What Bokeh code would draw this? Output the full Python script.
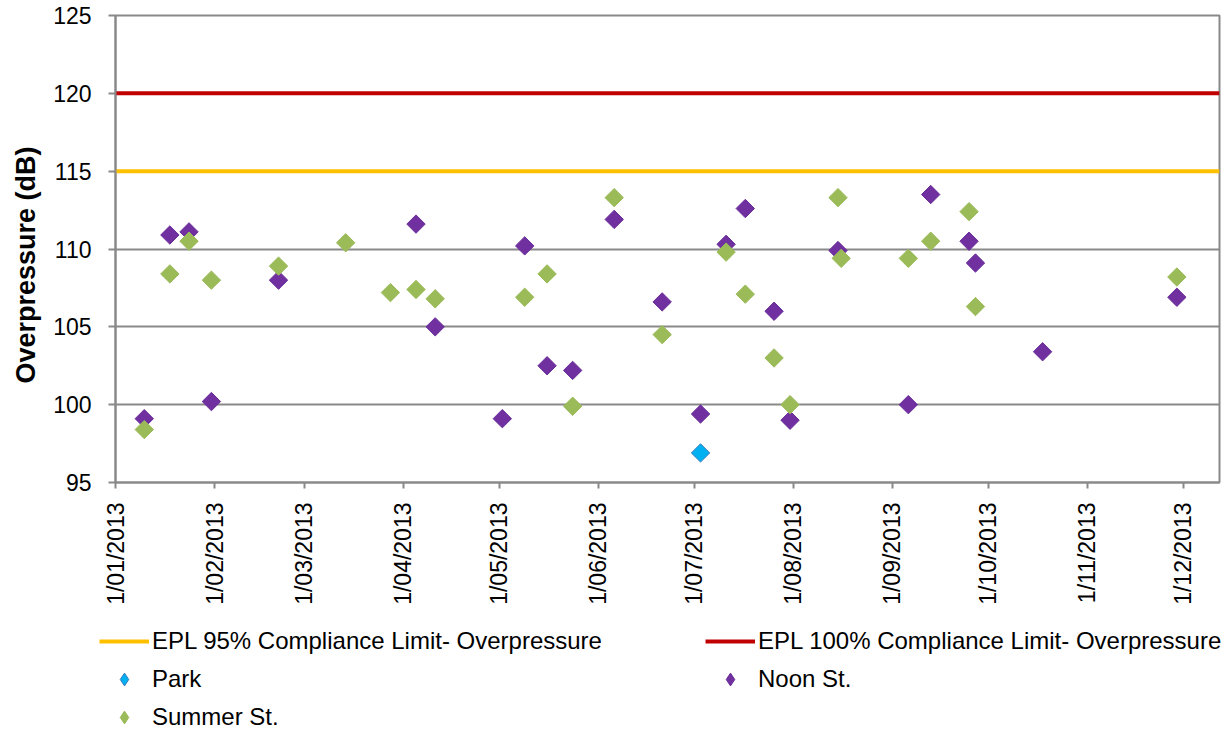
import datetime as dt
from math import pi

from bokeh.plotting import figure
from bokeh.layouts import column, row
from bokeh.models import (ColumnDataSource, Legend, LegendItem, Range1d,
                          FixedTicker, DatetimeTickFormatter, Title)
from bokeh.embed import file_html
from bokeh.resources import INLINE

# ---------------- data ----------------
noon_dates = ["2013-01-10", "2013-01-18", "2013-01-24", "2013-01-31", "2013-02-21",
              "2013-04-05", "2013-04-11", "2013-05-02", "2013-05-09", "2013-05-16",
              "2013-05-24", "2013-06-06", "2013-06-21", "2013-07-03", "2013-07-11",
              "2013-07-17", "2013-07-26", "2013-07-31", "2013-08-15", "2013-09-06",
              "2013-09-13", "2013-09-25", "2013-09-27", "2013-10-18", "2013-11-29"]
noon_db = [99.1, 110.9, 111.1, 100.2, 108.0,
           111.6, 105.0, 99.1, 110.2, 102.5,
           102.2, 111.9, 106.6, 99.4, 110.3,
           112.6, 106.0, 99.0, 109.9, 100.0,
           113.5, 110.5, 109.1, 103.4, 106.9]

summer_dates = ["2013-01-10", "2013-01-18", "2013-01-24", "2013-01-31", "2013-02-21",
                "2013-03-14", "2013-03-28", "2013-04-05", "2013-04-11", "2013-05-09",
                "2013-05-16", "2013-05-24", "2013-06-06", "2013-06-21", "2013-07-11",
                "2013-07-17", "2013-07-26", "2013-07-31", "2013-08-15", "2013-08-16",
                "2013-09-06", "2013-09-13", "2013-09-25", "2013-09-27", "2013-11-29"]
summer_db = [98.4, 108.4, 110.5, 108.0, 108.9,
             110.4, 107.2, 107.4, 106.8, 106.9,
             108.4, 99.9, 113.3, 104.5, 109.8,
             107.1, 103.0, 100.0, 113.3, 109.4,
             109.4, 110.5, 112.4, 106.3, 108.2]

park_dates = ["2013-07-03"]
park_db = [96.9]

limit_95 = 115
limit_100 = 120

x_start = "2013-01-01T00:00:00"
x_end = "2013-12-12T08:00:00"

tick_dates = ["2013-01-01", "2013-02-01", "2013-03-01", "2013-04-01", "2013-05-01",
              "2013-06-01", "2013-07-01", "2013-08-01", "2013-09-01", "2013-10-01",
              "2013-11-01", "2013-12-01"]
tick_labels = ["1/01/2013", "1/02/2013", "1/03/2013", "1/04/2013", "1/05/2013",
               "1/06/2013", "1/07/2013", "1/08/2013", "1/09/2013", "1/10/2013",
               "1/11/2013", "1/12/2013"]
y_ticks = [95, 100, 105, 110, 115, 120, 125]


def ms(s):
    d = dt.datetime.fromisoformat(s).replace(tzinfo=dt.timezone.utc)
    return d.timestamp() * 1000.0


FONT = "Liberation Sans"
GRID = "#898989"

x0, x1 = ms(x_start), ms(x_end)

p = figure(width=1228, height=618, x_axis_type="datetime",
           output_backend="svg", toolbar_location=None,
           x_range=Range1d(x0, x1), y_range=Range1d(95, 125),
           min_border_left=115, min_border_right=9, min_border_top=15,
           min_border_bottom=136)

p.outline_line_color = GRID
p.outline_line_width = 2
p.background_fill_color = "white"
p.border_fill_color = "white"

# grid
p.xgrid.grid_line_color = None
p.ygrid.grid_line_color = GRID
p.ygrid.grid_line_width = 2
p.ygrid.ticker = FixedTicker(ticks=y_ticks)

# y axis
p.yaxis.ticker = FixedTicker(ticks=y_ticks)
p.yaxis.axis_line_color = GRID
p.yaxis.axis_line_width = 2
p.yaxis.major_tick_line_color = GRID
p.yaxis.major_tick_line_width = 2
p.yaxis.major_tick_out = 7
p.yaxis.major_tick_in = 0
p.yaxis.minor_tick_line_color = None
p.yaxis.major_label_text_font = FONT
p.yaxis.major_label_text_font_size = "23px"
p.yaxis.major_label_text_color = "black"
p.yaxis.major_label_standoff = 17

ytitle = Title(text="Overpressure (dB)", align="left", offset=99,
               vertical_align="top",
               text_font=FONT, text_font_size="27px", text_font_style="bold",
               text_color="black", standoff=15)
p.add_layout(ytitle, "left")

# x axis
tick_ms = [ms(t) for t in tick_dates]
p.xaxis.ticker = FixedTicker(ticks=tick_ms)
p.xaxis.formatter = DatetimeTickFormatter(days="1/%m/%Y", months="1/%m/%Y",
                                          years="1/%m/%Y")
p.xaxis.major_label_overrides = {t: lab for t, lab in zip(tick_ms, tick_labels)}
p.xaxis.major_label_orientation = pi / 2
p.xaxis.axis_line_color = GRID
p.xaxis.axis_line_width = 2
p.xaxis.major_tick_line_color = GRID
p.xaxis.major_tick_line_width = 2
p.xaxis.major_tick_out = 6
p.xaxis.major_tick_in = 0
p.xaxis.minor_tick_line_color = None
p.xaxis.major_label_text_font = FONT
p.xaxis.major_label_text_font_size = "23px"
p.xaxis.major_label_text_color = "black"
p.xaxis.major_label_standoff = 14

# limit lines
C95, C100 = "#FFC000", "#C00000"
lim95_src = ColumnDataSource(dict(x=[x0, x1], y=[limit_95, limit_95]))
lim100_src = ColumnDataSource(dict(x=[x0, x1], y=[limit_100, limit_100]))
p.line("x", "y", source=lim95_src, line_color=C95, line_width=4)
p.line("x", "y", source=lim100_src, line_color=C100, line_width=4)

PARK_FILL, PARK_LINE = "#00B0F0", "#3A7CC0"
NOON_FILL, NOON_LINE = "#7030A0", "#6A2D99"
SUM_FILL, SUM_LINE = "#9BBB59", "#9BBB59"

MS = 13
park_src = ColumnDataSource(dict(x=[ms(d) for d in park_dates], y=park_db))
noon_src = ColumnDataSource(dict(x=[ms(d) for d in noon_dates], y=noon_db))
summer_src = ColumnDataSource(dict(x=[ms(d) for d in summer_dates], y=summer_db))

p.scatter("x", "y", source=park_src, marker="square", angle=pi / 4, size=MS,
          fill_color=PARK_FILL, line_color=PARK_LINE, line_width=1)
p.scatter("x", "y", source=noon_src, marker="square", angle=pi / 4, size=MS,
          fill_color=NOON_FILL, line_color=NOON_LINE, line_width=1)
p.scatter("x", "y", source=summer_src, marker="square", angle=pi / 4, size=MS,
          fill_color=SUM_FILL, line_color=SUM_LINE, line_width=1)

# ---------------- legend (own strip below the chart) ----------------
lg = figure(width=1228, height=114, output_backend="svg", toolbar_location=None,
            x_range=Range1d(0, 1), y_range=Range1d(0, 1),
            x_axis_location=None, y_axis_location=None,
            min_border=0, min_border_left=0, min_border_right=0,
            min_border_top=0, min_border_bottom=0)
lg.grid.visible = False
lg.outline_line_color = None
lg.background_fill_color = "white"
lg.border_fill_color = "white"

# key glyphs share the series' sources; their data lie outside this strip's ranges
k95 = lg.line("x", "y", source=lim95_src, line_color=C95, line_width=4)
k100 = lg.line("x", "y", source=lim100_src, line_color=C100, line_width=4)
kpark = lg.scatter("x", "y", source=park_src, marker="diamond",
                   fill_color=PARK_FILL, line_color=PARK_LINE, line_width=1)
knoon = lg.scatter("x", "y", source=noon_src, marker="diamond",
                   fill_color=NOON_FILL, line_color=NOON_LINE, line_width=1)
ksum = lg.scatter("x", "y", source=summer_src, marker="diamond",
                  fill_color=SUM_FILL, line_color=SUM_LINE, line_width=1)

legend = Legend(items=[
    LegendItem(label="EPL 95% Compliance Limit- Overpressure", renderers=[k95]),
    LegendItem(label="EPL 100% Compliance Limit- Overpressure", renderers=[k100]),
    LegendItem(label="Park", renderers=[kpark]),
    LegendItem(label="Noon St.", renderers=[knoon]),
    LegendItem(label="Summer St.", renderers=[ksum]),
], location=(99, -1), orientation="horizontal", ncols=2)
legend.label_text_font = FONT
legend.label_text_font_size = "24px"
legend.label_text_color = "black"
legend.glyph_width = 50
legend.glyph_height = 32
legend.label_standoff = 3
legend.label_height = 20
legend.label_width = 547
legend.spacing = 6
legend.padding = 0
legend.margin = 0
legend.border_line_color = None
legend.background_fill_alpha = 0
lg.add_layout(legend, "center")

layout = column(p, row(lg, spacing=0), spacing=0)
open("out.html", "w").write(file_html(layout, INLINE))
